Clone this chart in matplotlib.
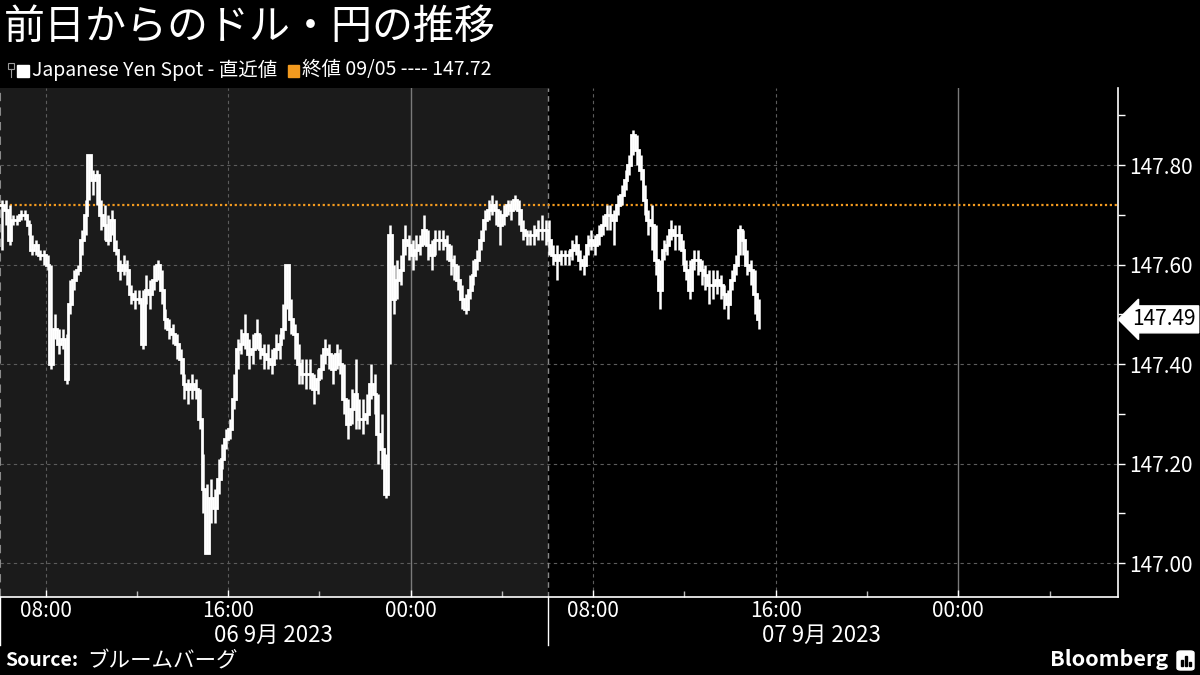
import matplotlib
matplotlib.use('Agg')
import matplotlib.pyplot as plt
import matplotlib.dates as mdates
import matplotlib.transforms as mtransforms
from matplotlib.patches import Rectangle, FancyBboxPatch
import pandas as pd

plt.rcParams['font.family'] = ['Noto Sans CJK JP', 'DejaVu Sans']

# ---------------- data ----------------
title = '前日からのドル・円の推移'
series_label = 'Japanese Yen Spot - 直近値'
close_label = '終値 09/05 ---- 147.72'
source_label = 'Source:'
source_name = 'ブルームバーグ'
prev_close = 147.72
last_value = 147.49

start_time = '2023-09-06 06:00'
sample_freq = '10min'
prices = [
    147.72, 147.71, 147.65, 147.69, 147.69, 147.70, 147.70, 147.68, 147.63, 147.64,
    147.62, 147.62, 147.60, 147.40, 147.47, 147.44, 147.45, 147.37, 147.52, 147.57,
    147.59, 147.65, 147.70, 147.82, 147.77, 147.78, 147.70, 147.68, 147.65, 147.69,
    147.63, 147.59, 147.60, 147.59, 147.54, 147.53, 147.53, 147.44, 147.55, 147.54,
    147.57, 147.60, 147.55, 147.49, 147.47, 147.46, 147.44, 147.41, 147.36, 147.35,
    147.36, 147.35, 147.29, 147.15, 147.02, 147.13, 147.11, 147.17, 147.21, 147.25,
    147.27, 147.33, 147.43, 147.44, 147.46, 147.42, 147.43, 147.46, 147.43, 147.42,
    147.41, 147.40, 147.43, 147.44, 147.47, 147.60, 147.49, 147.46, 147.40, 147.38,
    147.38, 147.38, 147.35, 147.37, 147.39, 147.43, 147.42, 147.39, 147.42, 147.40,
    147.33, 147.28, 147.31, 147.34, 147.29, 147.29, 147.30, 147.36, 147.34, 147.26,
    147.23, 147.14, 147.66, 147.53, 147.57, 147.59, 147.65, 147.64, 147.62, 147.63,
    147.64, 147.67, 147.64, 147.62, 147.65, 147.65, 147.65, 147.64, 147.61, 147.60,
    147.57, 147.53, 147.51, 147.55, 147.58, 147.61, 147.65, 147.69, 147.71, 147.72,
    147.71, 147.68, 147.70, 147.72, 147.71, 147.73, 147.71, 147.67, 147.66, 147.66,
    147.66, 147.67, 147.67, 147.67, 147.65, 147.62, 147.61, 147.62, 147.62, 147.62,
    147.63, 147.64, 147.61, 147.60, 147.64, 147.65, 147.64, 147.66, 147.68, 147.70,
    147.70, 147.69, 147.72, 147.74, 147.77, 147.80, 147.86, 147.83, 147.79, 147.73,
    147.69, 147.68, 147.61, 147.55, 147.63, 147.64, 147.67, 147.66, 147.66, 147.63,
    147.59, 147.55, 147.61, 147.61, 147.59, 147.58, 147.56, 147.56, 147.57, 147.56,
    147.54, 147.52, 147.57, 147.60, 147.67, 147.65, 147.60, 147.59, 147.54, 147.49,
]
# intra-interval highs and lows (10-minute buckets)
highs = [
    147.73, 147.73, 147.72, 147.70, 147.70, 147.71, 147.71, 147.69, 147.66, 147.65,
    147.63, 147.63, 147.62, 147.60, 147.50, 147.47, 147.47, 147.46, 147.57, 147.59,
    147.60, 147.67, 147.73, 147.82, 147.79, 147.79, 147.73, 147.72, 147.70, 147.71,
    147.65, 147.61, 147.62, 147.61, 147.56, 147.55, 147.55, 147.55, 147.58, 147.57,
    147.60, 147.61, 147.59, 147.51, 147.49, 147.48, 147.46, 147.43, 147.38, 147.37,
    147.38, 147.37, 147.35, 147.22, 147.16, 147.17, 147.15, 147.21, 147.24, 147.27,
    147.29, 147.38, 147.45, 147.47, 147.50, 147.45, 147.46, 147.49, 147.46, 147.44,
    147.44, 147.43, 147.46, 147.46, 147.52, 147.60, 147.53, 147.48, 147.44, 147.41,
    147.41, 147.41, 147.38, 147.39, 147.42, 147.45, 147.44, 147.42, 147.44, 147.43,
    147.40, 147.33, 147.35, 147.41, 147.33, 147.33, 147.34, 147.40, 147.38, 147.34,
    147.30, 147.22, 147.68, 147.60, 147.61, 147.62, 147.68, 147.66, 147.65, 147.66,
    147.66, 147.70, 147.67, 147.65, 147.67, 147.67, 147.67, 147.66, 147.64, 147.62,
    147.60, 147.56, 147.54, 147.58, 147.61, 147.63, 147.67, 147.71, 147.73, 147.74,
    147.73, 147.71, 147.72, 147.73, 147.73, 147.74, 147.73, 147.69, 147.67, 147.67,
    147.68, 147.69, 147.70, 147.69, 147.69, 147.64, 147.64, 147.63, 147.63, 147.63,
    147.65, 147.66, 147.63, 147.62, 147.66, 147.67, 147.66, 147.68, 147.70, 147.72,
    147.72, 147.71, 147.74, 147.76, 147.79, 147.82, 147.87, 147.86, 147.82, 147.76,
    147.71, 147.72, 147.68, 147.61, 147.65, 147.66, 147.69, 147.68, 147.68, 147.65,
    147.61, 147.61, 147.63, 147.63, 147.61, 147.60, 147.59, 147.59, 147.59, 147.58,
    147.56, 147.55, 147.59, 147.62, 147.68, 147.67, 147.63, 147.61, 147.59, 147.53,
]
lows = [
    147.63, 147.68, 147.64, 147.68, 147.68, 147.69, 147.69, 147.66, 147.62, 147.62,
    147.61, 147.60, 147.59, 147.39, 147.45, 147.42, 147.43, 147.36, 147.50, 147.55,
    147.58, 147.62, 147.66, 147.73, 147.74, 147.72, 147.67, 147.65, 147.64, 147.66,
    147.62, 147.57, 147.58, 147.56, 147.52, 147.51, 147.52, 147.43, 147.52, 147.51,
    147.55, 147.57, 147.52, 147.47, 147.45, 147.44, 147.41, 147.38, 147.33, 147.32,
    147.33, 147.33, 147.27, 147.10, 147.02, 147.08, 147.08, 147.14, 147.19, 147.23,
    147.25, 147.31, 147.39, 147.42, 147.43, 147.39, 147.40, 147.43, 147.41, 147.39,
    147.39, 147.38, 147.41, 147.41, 147.45, 147.51, 147.46, 147.41, 147.36, 147.36,
    147.35, 147.35, 147.32, 147.34, 147.37, 147.40, 147.39, 147.36, 147.39, 147.38,
    147.30, 147.25, 147.28, 147.27, 147.27, 147.26, 147.28, 147.33, 147.30, 147.20,
    147.19, 147.13, 147.40, 147.50, 147.53, 147.56, 147.62, 147.61, 147.59, 147.61,
    147.62, 147.64, 147.61, 147.59, 147.62, 147.63, 147.63, 147.61, 147.58, 147.57,
    147.55, 147.51, 147.50, 147.53, 147.56, 147.59, 147.63, 147.67, 147.69, 147.70,
    147.68, 147.64, 147.68, 147.70, 147.69, 147.71, 147.68, 147.65, 147.64, 147.64,
    147.64, 147.65, 147.65, 147.64, 147.62, 147.60, 147.57, 147.60, 147.60, 147.60,
    147.61, 147.62, 147.59, 147.58, 147.62, 147.63, 147.62, 147.64, 147.66, 147.67,
    147.67, 147.64, 147.70, 147.72, 147.75, 147.78, 147.82, 147.80, 147.77, 147.70,
    147.66, 147.63, 147.58, 147.51, 147.61, 147.62, 147.65, 147.63, 147.63, 147.60,
    147.57, 147.53, 147.59, 147.58, 147.56, 147.55, 147.52, 147.53, 147.54, 147.53,
    147.51, 147.49, 147.55, 147.58, 147.62, 147.62, 147.58, 147.56, 147.50, 147.47,
]

axis_start = '2023-09-06 06:00'
axis_end = '2023-09-08 07:00'
session_split = '2023-09-07 06:00'
y_ticks = [147.0, 147.2, 147.4, 147.6, 147.8]
y_minor_ticks = [147.1, 147.3, 147.5, 147.7, 147.9]
y_limits = (146.932, 147.955)
grid_times = ['2023-09-06 08:00', '2023-09-06 16:00', '2023-09-07 00:00',
              '2023-09-07 08:00', '2023-09-07 16:00', '2023-09-08 00:00']
day_boundaries = ['2023-09-07 00:00', '2023-09-08 00:00']
date_labels = ['06 9月 2023', '07 9月 2023']
date_label_times = ['2023-09-06 18:00', '2023-09-07 18:00']

# ---------------- figure ----------------
W, H = 1200, 675
fig = plt.figure(figsize=(W / 100, H / 100), dpi=100, facecolor='black')


def px(x):
    return x / W


def py(y):
    return 1 - y / H


ax_left, ax_right, ax_top, ax_bottom = 0, 1118, 88, 597
ax = fig.add_axes([px(ax_left), py(ax_bottom), px(ax_right - ax_left), (ax_bottom - ax_top) / H])
ax.set_facecolor('black')

times = pd.date_range(start_time, periods=len(prices), freq=sample_freq)
t0 = pd.Timestamp(axis_start)
t1 = pd.Timestamp(axis_end)
ts = pd.Timestamp(session_split)

ax.set_xlim(t0, t1)
ax.set_ylim(*y_limits)

# shaded previous session
ax.axvspan(t0, ts, color='#1b1b1b', zorder=0, lw=0)

# grid
for yv in y_ticks:
    ax.axhline(yv, color='#5c5c5c', lw=0.8, ls=(0, (3, 3)), zorder=1)
for g in grid_times:
    gt = pd.Timestamp(g)
    if g in day_boundaries:
        ax.axvline(gt, color='#7a7a7a', lw=1.0, zorder=1)
    else:
        ax.axvline(gt, color='#5c5c5c', lw=0.8, ls=(0, (3, 3)), zorder=1)
ax.axvline(ts, color='#8a8a8a', lw=1.0, ls=(0, (4, 3)), zorder=1)
ax.axvline(t0, color='#8a8a8a', lw=1.5, ls=(0, (4, 3)), zorder=1)

# previous close line
ax.axhline(prev_close, color='#f29a1f', lw=1.6, ls=(0, (1, 1.2)), zorder=2)

# price line with intra-interval ranges
mid_times = times + pd.Timedelta(sample_freq) / 2
ax.vlines(mid_times, lows, highs, color='white', lw=1.8, zorder=3)
ax.plot(times, prices, color='white', lw=2.0, drawstyle='steps-post', zorder=3,
        solid_joinstyle='miter')

# separators extending below the axis
trans_xa = mtransforms.blended_transform_factory(ax.transData, ax.transAxes)
for tt in [t0, ts]:
    ax.plot([tt, tt], [0, -0.095], color='white', lw=1.0, transform=trans_xa, clip_on=False)

# spines
for s in ['top', 'left']:
    ax.spines[s].set_visible(False)
ax.spines['right'].set_color('white')
ax.spines['bottom'].set_color('white')
ax.spines['right'].set_linewidth(1.2)
ax.spines['bottom'].set_linewidth(1.2)

# y axis on right
ax.yaxis.tick_right()
ax.set_yticks(y_ticks)
ax.set_yticklabels([f'{v:.2f}' for v in y_ticks])
ax.set_yticks(y_minor_ticks, minor=True)
ax.tick_params(axis='y', which='major', direction='out', length=5, width=1, colors='white',
               labelsize=15, pad=3)
ax.tick_params(axis='y', which='minor', direction='out', length=5, width=1, colors='white')

# x axis
ax.xaxis.set_major_locator(mdates.HourLocator(byhour=[0, 8, 16]))
ax.xaxis.set_minor_locator(mdates.HourLocator(byhour=[4, 12, 20]))
ax.xaxis.set_major_formatter(mdates.DateFormatter('%H:%M'))
ax.tick_params(axis='x', which='major', direction='in', length=5, width=1, colors='white',
               labelsize=15, pad=2)
ax.tick_params(axis='x', which='minor', direction='in', length=4, width=1, colors='#bbbbbb')

for lab, lt in zip(date_labels, date_label_times):
    ax.text(pd.Timestamp(lt), -0.075, lab, transform=trans_xa, ha='center', va='center',
            color='white', fontsize=16)

# last value tag
trans_ya = mtransforms.blended_transform_factory(ax.transAxes, ax.transData)
ax.text(1.013, last_value, f'{last_value:.2f}', transform=trans_ya, ha='left', va='center',
        color='black', fontsize=15, clip_on=False,
        bbox=dict(boxstyle='larrow,pad=0.12', fc='white', ec='white'))

# ---------------- texts ----------------
fig.text(px(4), py(27), title, color='white', fontsize=29.5, ha='left', va='center')

# legend
fig.add_artist(Rectangle((px(8), py(69)), px(6), 6 / H, fill=False, ec='#9a9a9a', lw=0.8,
                         transform=fig.transFigure))
fig.add_artist(plt.Line2D([px(11), px(11)], [py(69), py(77)], color='#9a9a9a', lw=0.8,
                          transform=fig.transFigure))
fig.add_artist(Rectangle((px(17), py(77)), px(12), 12 / H, color='white',
                         transform=fig.transFigure))
fig.text(px(32), py(70), series_label, color='white', fontsize=14, ha='left', va='center')
fig.add_artist(Rectangle((px(288), py(77)), px(11), 12 / H, color='#f29a1f',
                         transform=fig.transFigure))
fig.text(px(302), py(70), close_label, color='white', fontsize=14, ha='left', va='center')

# source
fig.text(px(5), py(661), source_label, color='white', fontsize=14, fontweight='bold',
         ha='left', va='center')
fig.text(px(87), py(661), source_name, color='white', fontsize=15.5, ha='left', va='center')

# Bloomberg logo
fig.text(px(1168), py(660), 'Bloomberg', color='white', fontsize=15.5, fontweight='bold',
         ha='right', va='center')
fig.add_artist(FancyBboxPatch((px(1177), py(670)), px(17), 19 / H,
                              boxstyle='round,pad=0,rounding_size=0.003',
                              fc='white', ec='white', transform=fig.transFigure))
for bx, bh in [(1181, 6), (1185, 10), (1189, 4)]:
    fig.add_artist(Rectangle((px(bx), py(666)), px(2), bh / H, color='black',
                             transform=fig.transFigure))

fig.savefig('out.png', dpi=100, facecolor='black')
